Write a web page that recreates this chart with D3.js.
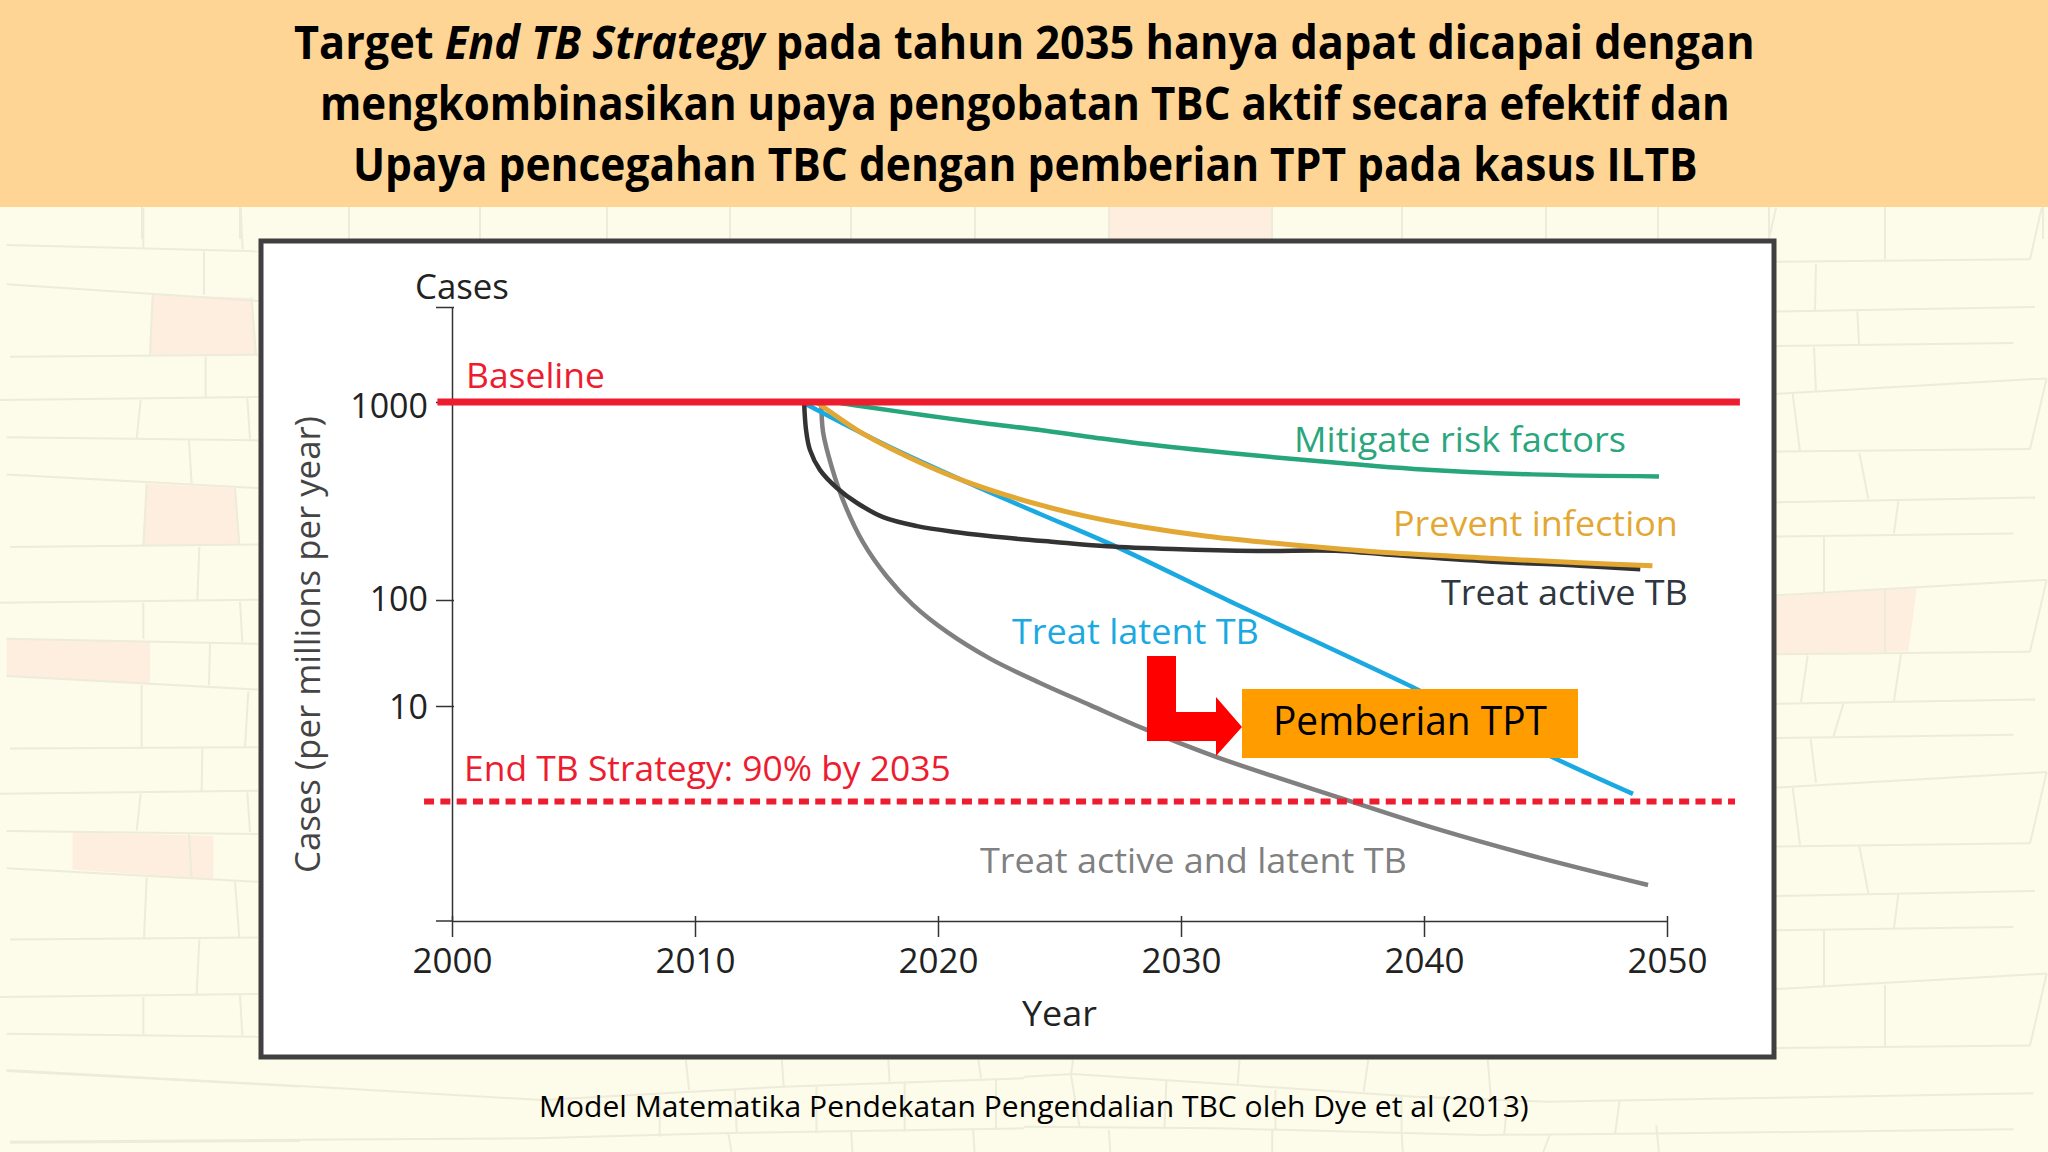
<!DOCTYPE html>
<html>
<head>
<meta charset="utf-8">
<script src="https://cdn.jsdelivr.net/npm/d3@7"></script>
<style>
  html, body { margin: 0; padding: 0; background: #fdfbea; }
  svg { display: block; }
  text { font-family: "Open Sans", sans-serif; }
</style>
</head>
<body>
<svg id="chart"></svg>
<script>
// series values
const mitigateYears = [2015.76, 2016.79, 2019.38, 2022.14, 2024.2, 2026.26, 2028.31, 2032.43, 2036.54, 2039.59, 2044.44, 2049.67];
const mitigateCases = [1000, 954, 860, 774, 722, 666, 617, 546, 492, 459, 431, 421];

const preventYears = [2015.0, 2016.67, 2018.02, 2019.67, 2021.44, 2024.2, 2026.26, 2028.31, 2031.07, 2033.79, 2036.54, 2038.6, 2042.5, 2046.4, 2049.4];
const preventCases = [1000, 722, 586, 470, 385, 302, 262, 235, 210, 194, 181, 173, 163, 154, 149];

const activeYears = [2014.49, 2014.57, 2014.73, 2015.14, 2015.84, 2016.67, 2017.74, 2019.14, 2020.78, 2022.84, 2024.9, 2026.95, 2029.67, 2033.13, 2036.54, 2038.6, 2042.5, 2046.4, 2048.9];
const activeCases = [1000, 722, 573, 454, 368, 309, 262, 236, 220, 206, 196, 187, 181, 177, 177, 169, 157, 149, 143];

const latentYears = [2014.4, 2018.02, 2021.44, 2024.2, 2027.37, 2031.9, 2039.6, 2041.07, 2045.4, 2048.6];
const latentCases = [1000, 592, 381, 272, 185, 100, 14.8, 10, 5.7, 3.9];

const bothYears = [2015.2, 2015.27, 2015.64, 2016.17, 2016.91, 2017.9, 2018.97, 2020.37, 2022.14, 2024.2, 2026.26, 2028.52, 2031.44, 2036.67, 2040.53, 2044.81, 2049.22];
const bothCases = [1000, 705, 464, 302, 196, 131, 90, 50, 28, 16.5, 10.2, 7.8, 5.8, 3.7, 2.68, 1.96, 1.47];

const baselineYears = [1999.4, 2053];
const baselineCases = [1000, 1000];
const targetYears = [1998.85, 2052.8];
const targetCases = [3.6, 3.6];

// axis ticks
const xTicks = [2000, 2010, 2020, 2030, 2040, 2050];
const yTicks = [3000, 1000, 100, 10];
const yTickLabels = ["", "1000", "100", "10"];

const titleLines = [
  [["Target ", false], ["End TB Strategy", true], [" pada tahun 2035 hanya dapat dicapai dengan", false]],
  [["mengkombinasikan upaya pengobatan TBC aktif secara efektif dan", false]],
  [["Upaya pencegahan TBC dengan pemberian TPT pada kasus ILTB", false]],
];

// wall decoration behind the chart, as [x1, y1, x2, y2] in crop coordinates
const wallLeft = [
  [20,105,775,115],[20,168,775,195],[30,285,775,282],[0,355,775,350],[20,415,775,420],[20,475,775,497],
  [30,592,775,588],[0,682,775,677],[20,740,775,748],[20,800,775,822],[30,917,775,915],[0,990,775,985],
  [20,1050,775,1055],[20,1110,775,1132],[30,1225,775,1222],[0,1318,775,1313],[20,1377,775,1382],
  [20,1437,900,1462],[30,1553,900,1550],
  [430,45,430,110],[722,45,728,112],[612,115,612,185],[458,185,450,282],[755,190,768,282],[617,285,617,350],
  [422,355,410,417],[742,352,750,418],[567,420,575,490],[440,490,430,590],[705,497,718,588],[598,592,592,677],
  [430,682,430,740],[720,680,727,745],[630,748,627,815],[425,815,425,915],[745,825,735,915],[607,917,605,987],
  [422,990,410,1050],[742,988,750,1052],[567,1055,575,1125],[440,1125,432,1222],[705,1132,718,1222],
  [598,1225,590,1313],[430,1318,430,1378],[720,1315,727,1380],
];
const wallLeftPink = [
  [458,185,755,190,768,282,450,282],[440,490,705,497,718,588,430,590],
  [20,740,450,745,450,812,20,800],[218,1052,640,1058,640,1128,218,1112],
];
const wallRight = [
  [108,132,870,128],[108,212,885,205],[108,268,820,263],[108,345,920,320],[108,438,870,434],[108,520,885,512],
  [108,575,820,570],[108,670,920,645],[108,765,870,761],[108,845,885,838],[108,900,820,895],[108,980,920,955],
  [108,1075,870,1070],[108,1155,885,1147],[108,1210,820,1205],[108,1305,920,1280],[108,1400,870,1396],
  [108,45,88,92],[435,45,435,128],[870,128,905,45],[228,135,225,210],[352,212,357,265],[222,270,228,342],
  [158,345,180,438],[870,434,920,320],[358,440,385,515],[475,518,462,570],[252,575,252,665],[435,660,435,762],
  [870,761,920,645],[203,767,183,842],[483,765,462,840],[310,845,280,898],[212,902,228,972],[158,980,180,1072],
  [870,1070,920,955],[358,1075,385,1150],[475,1152,462,1207],[252,1210,252,1300],[435,1298,435,1398],[870,1396,920,1280],
];
const wallRightPink = [[108,672,530,658,505,760,108,765]];
const wallTop = [142, 240, 349, 480, 607, 730, 851, 975, 1109, 1272, 1402, 1546, 1658, 1769, 1885, 2043];
const wallBottomLeft = [
  [10,60,520,115],[520,115,830,150],[830,150,1200,110],[1200,110,1568,85],
  [15,275,820,265],[820,265,1100,250],[1100,250,1568,235],
  [1050,30,1055,120],[1197,30,1200,110],[1360,30,1362,95],[1498,30,1502,85],[1525,85,1525,235],[1385,95,1385,245],
  [1250,110,1250,250],[1125,120,1128,250],[1010,140,1010,260],[1115,250,1120,306],[1303,240,1305,306],[1490,240,1492,306],
];
const wallBottomRight = [
  [0,80,75,72],[75,72,330,105],[330,105,600,140],[600,140,800,155],[800,155,1100,145],[1100,145,1545,130],
  [0,230,300,235],[300,235,700,255],[700,255,1000,250],[1000,250,1515,238],
  [75,30,72,75],[330,30,327,105],[527,30,520,125],[710,30,715,150],[72,75,85,230],[218,90,215,235],[385,120,385,240],
  [578,140,578,245],[740,160,735,255],[912,150,905,250],[130,240,132,306],[380,240,380,306],[578,245,580,306],
  [805,255,795,306],[968,225,972,306],
];

const w = 2048;
const h = 1152;
const red = "#ed1c2e";

const svg = d3.select("#chart").attr("width", w).attr("height", h);

// background
svg.append("rect").attr("width", w).attr("height", h).attr("fill", "#fdfbea");
const wall = svg.append("g");

const drawPink = (quads, fx, fy) => {
  wall.selectAll(null).data(quads).enter().append("polygon")
    .attr("points", (q) => d3.range(0, 8, 2).map((i) => `${fx(q[i])},${fy(q[i + 1])}`).join(" "))
    .attr("fill", "#fdeee0");
};
const drawWall = (segs, fx, fy) => {
  wall.selectAll(null).data(segs).enter().append("line")
    .attr("x1", (s) => fx(s[0])).attr("y1", (s) => fy(s[1]))
    .attr("x2", (s) => fx(s[2])).attr("y2", (s) => fy(s[3]))
    .attr("stroke", "#edebd9").attr("stroke-width", 2);
};
const sideY = (y) => y / 1.613 + 180;
const bottomY = (y) => y / 3 + 1050;

drawPink(wallLeftPink, (x) => x / 3, sideY);
drawPink(wallRightPink, (x) => x / 3 + 1740, sideY);
wall.append("rect").attr("x", 1109).attr("y", 207).attr("width", 163).attr("height", 32).attr("fill", "#fdeee0");
drawWall(wallLeft, (x) => x / 3, sideY);
drawWall(wallRight, (x) => x / 3 + 1740, sideY);
drawWall(wallBottomLeft, (x) => x / 1.531, bottomY);
drawWall(wallBottomRight, (x) => x / 1.531 + 1024, bottomY);
wall.selectAll(null).data(wallTop).enter().append("line")
  .attr("x1", (d) => d).attr("x2", (d) => d).attr("y1", 207).attr("y2", 239)
  .attr("stroke", "#edebd9").attr("stroke-width", 2);

// squeeze a text so it runs from x0 to x1, as in the reference
const fit = (sel, x0, x1, y) => {
  const len = sel.node().getComputedTextLength();
  sel.attr("x", 0).attr("y", 0)
    .attr("transform", `translate(${x0},${y}) scale(${(x1 - x0) / len},1)`);
  return sel;
};

// header
svg.append("rect").attr("width", w).attr("height", 207).attr("fill", "#fed595");
const titleSpans = [[294, 1755, 59], [320, 1730, 120], [353, 1698, 181]];
titleLines.forEach((parts, i) => {
  const t = svg.append("text").attr("font-size", 47).attr("font-weight", 700).attr("fill", "#000");
  parts.forEach(([s, italic]) => {
    t.append("tspan").attr("font-style", italic ? "italic" : "normal").text(s);
  });
  fit(t, titleSpans[i][0], titleSpans[i][1], titleSpans[i][2]);
});

// chart frame
svg.append("rect").attr("x", 261).attr("y", 241).attr("width", 1513).attr("height", 816)
  .attr("fill", "#fff").attr("stroke", "#404040").attr("stroke-width", 5);

// scales: the y axis is a schematic log axis, each decade has its own length
const xScale = d3.scaleLinear().domain([2000, 2050]).range([452, 1667]);
const yScale = d3.scaleLog().domain([1, 10, 100, 1000, 3000]).range([921, 706, 600, 402, 307]);

// axes
const xAxis = d3.axisBottom(xScale).tickValues(xTicks).tickFormat(d3.format("d")).tickSizeOuter(0);
const yAxis = d3.axisLeft(yScale).tickValues(yTicks)
  .tickFormat((d, i) => yTickLabels[i]).tickSizeOuter(0);

const gx = svg.append("g").attr("transform", `translate(0,${yScale(1)})`).call(xAxis);
gx.select(".domain").attr("stroke", "#333").attr("stroke-width", 1.5);
gx.selectAll(".tick line").attr("y1", -5).attr("y2", 16).attr("stroke", "#333").attr("stroke-width", 1.5);
gx.selectAll(".tick text").attr("y", 52).attr("dy", 0).attr("font-size", 35)
  .attr("font-family", '"Open Sans", sans-serif').attr("fill", "#222");
svg.append("line").attr("x1", 436).attr("x2", xScale(2000)).attr("y1", yScale(1)).attr("y2", yScale(1))
  .attr("stroke", "#333").attr("stroke-width", 1.5);

const gy = svg.append("g").attr("transform", `translate(${xScale(2000)},0)`).call(yAxis);
gy.select(".domain").attr("stroke", "#333").attr("stroke-width", 1.5);
gy.selectAll(".tick line").attr("x1", -16).attr("x2", 2).attr("stroke", "#333").attr("stroke-width", 1.5);
gy.selectAll(".tick text").attr("x", -24).attr("dy", 0).attr("font-size", 34)
  .attr("y", (d, i) => [0, 15, 10, 12][i])
  .attr("font-family", '"Open Sans", sans-serif').attr("fill", "#222");

// curves
const line = d3.line()
  .x((d) => xScale(d[0]))
  .y((d) => yScale(d[1]))
  .curve(d3.curveCatmullRom.alpha(0.5));

const drawSeries = (years, cases, color, width) =>
  svg.append("path")
    .datum(d3.zip(years, cases))
    .attr("fill", "none")
    .attr("stroke", color)
    .attr("stroke-width", width)
    .attr("d", line);

drawSeries(bothYears, bothCases, "#808080", 4.5);
drawSeries(latentYears, latentCases, "#1ba9e1", 4.5);
drawSeries(activeYears, activeCases, "#333333", 4.5);
drawSeries(preventYears, preventCases, "#e3a733", 5);
drawSeries(mitigateYears, mitigateCases, "#27a57b", 4.5);
drawSeries(baselineYears, baselineCases, red, 7);
drawSeries(targetYears, targetCases, red, 6).attr("stroke-dasharray", "10 6.3");

// chart texts: label, colour, x from, x to, baseline
const chartTexts = [
  ["Cases", "#222", 415, 509, 299],
  ["Baseline", red, 466, 605, 388],
  ["Mitigate risk factors", "#2aa67d", 1294, 1626, 452],
  ["Prevent infection", "#e3a733", 1393, 1678, 536],
  ["Treat active TB", "#2e3640", 1441, 1688, 605],
  ["Treat latent TB", "#1ba9e1", 1012, 1259, 644],
  ["Treat active and latent TB", "#808080", 980, 1407, 873],
  ["End TB Strategy: 90% by 2035", red, 464, 951, 781],
  ["Year", "#222", 1022, 1097, 1026],
];
chartTexts.forEach(([s, color, x0, x1, y]) => {
  fit(svg.append("text").attr("font-size", 34).attr("fill", color).text(s), x0, x1, y);
});

const yLabel = svg.append("text").attr("font-size", 34).attr("fill", "#444")
  .text("Cases (per millions per year)");
yLabel.attr("transform", `translate(320,873) rotate(-90) scale(${457 / yLabel.node().getComputedTextLength()},1)`);

// red arrow and orange box
svg.append("path")
  .attr("d", "M1147,656 H1176 V712 H1216 V697 L1242,727 L1216,756 V741 H1147 Z")
  .attr("fill", "#ff0000");
svg.append("rect").attr("x", 1242).attr("y", 689).attr("width", 336).attr("height", 69).attr("fill", "#ff9c00");
fit(svg.append("text").attr("font-size", 40).attr("fill", "#000").text("Pemberian TPT"), 1273, 1547, 735);

// caption
fit(svg.append("text").attr("font-size", 30).attr("fill", "#000")
  .text("Model Matematika Pendekatan Pengendalian TBC oleh Dye et al (2013)"), 539, 1529, 1117);
</script>
</body>
</html>
